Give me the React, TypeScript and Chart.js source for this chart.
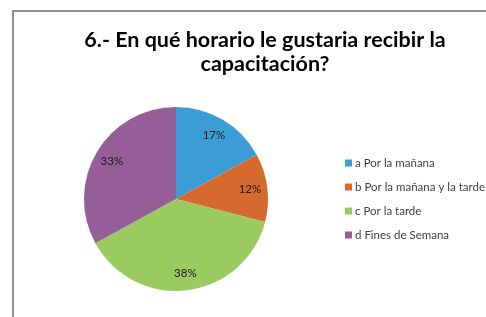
import React, { useEffect, useRef } from "react";
import { Chart, registerables } from "chart.js";

Chart.register(...registerables);

const titleLines = ["6.- En qué horario le gustaria recibir la", "capacitación?"];
const categories = [
  "a Por la mañana",
  "b Por la mañana y la tarde",
  "c Por la tarde",
  "d Fines de Semana",
];
const values = [17, 12, 38, 33];
const valueLabels = ["17%", "12%", "38%", "33%"];
const colors = ["#3C9DD6", "#D5692E", "#9BCB60", "#955E98"];

const FONT = "Lato, 'Open Sans', 'DejaVu Sans', sans-serif";

const framePlugin = {
  id: "frame",
  beforeDraw(chart: any) {
    const ctx = chart.ctx;
    ctx.save();
    ctx.fillStyle = "#ffffff";
    ctx.fillRect(0, 0, chart.width, chart.height);
    ctx.strokeStyle = "#8e8e8e";
    ctx.lineWidth = 2;
    ctx.beginPath();
    ctx.moveTo(13, chart.height);
    ctx.lineTo(13, 11);
    ctx.lineTo(chart.width, 11);
    ctx.stroke();
    ctx.restore();
  },
};

const textPlugin = {
  id: "texts",
  afterDraw(chart: any) {
    const ctx = chart.ctx;
    ctx.save();
    // title
    ctx.fillStyle = "#000000";
    ctx.font = `bold 21.5px ${FONT}`;
    ctx.textAlign = "center";
    ctx.textBaseline = "middle";
    titleLines.forEach((t, i) => ctx.fillText(t, 265, 40 + i * 24));

    // slice labels
    const meta = chart.getDatasetMeta(0);
    ctx.font = `11.5px ${FONT}`;
    ctx.fillStyle = "#1a1a1a";
    meta.data.forEach((arc: any, i: number) => {
      const p = arc.getProps(["x", "y", "startAngle", "endAngle", "outerRadius"], true);
      const mid = (p.startAngle + p.endAngle) / 2;
      const r = p.outerRadius * 0.81;
      ctx.fillText(valueLabels[i], p.x + Math.cos(mid) * r, p.y + Math.sin(mid) * r);
    });

    // legend
    const labels = chart.data.labels as string[];
    const bg = chart.data.datasets[0].backgroundColor as string[];
    ctx.font = `11.5px ${FONT}`;
    ctx.textAlign = "left";
    labels.forEach((l, i) => {
      const y = 163 + i * 24;
      ctx.fillStyle = bg[i];
      ctx.fillRect(345, y - 3.5, 7, 7);
      ctx.fillStyle = "#404040";
      ctx.fillText(l, 355, y);
    });
    ctx.restore();
  },
};

export default function App() {
  const ref = useRef<HTMLCanvasElement>(null);
  useEffect(() => {
    if (!ref.current) return;
    const chart = new Chart(ref.current, {
      type: "pie",
      data: {
        labels: categories,
        datasets: [
          {
            data: values,
            backgroundColor: colors,
            borderWidth: 0,
          },
        ],
      },
      options: {
        responsive: false,
        animation: false,
        layout: { padding: { left: 84, right: 218, top: 107, bottom: 26 } },
        plugins: {
          legend: { display: false },
          title: { display: false },
          tooltip: { enabled: false },
        },
      },
      plugins: [framePlugin, textPlugin],
    });
    return () => chart.destroy();
  }, []);
  return (
    <div style={{ position: "fixed", left: 0, top: 0, width: 486, height: 317, background: "#fff" }}>
      <canvas ref={ref} width={486} height={317} style={{ display: "block" }} />
    </div>
  );
}
